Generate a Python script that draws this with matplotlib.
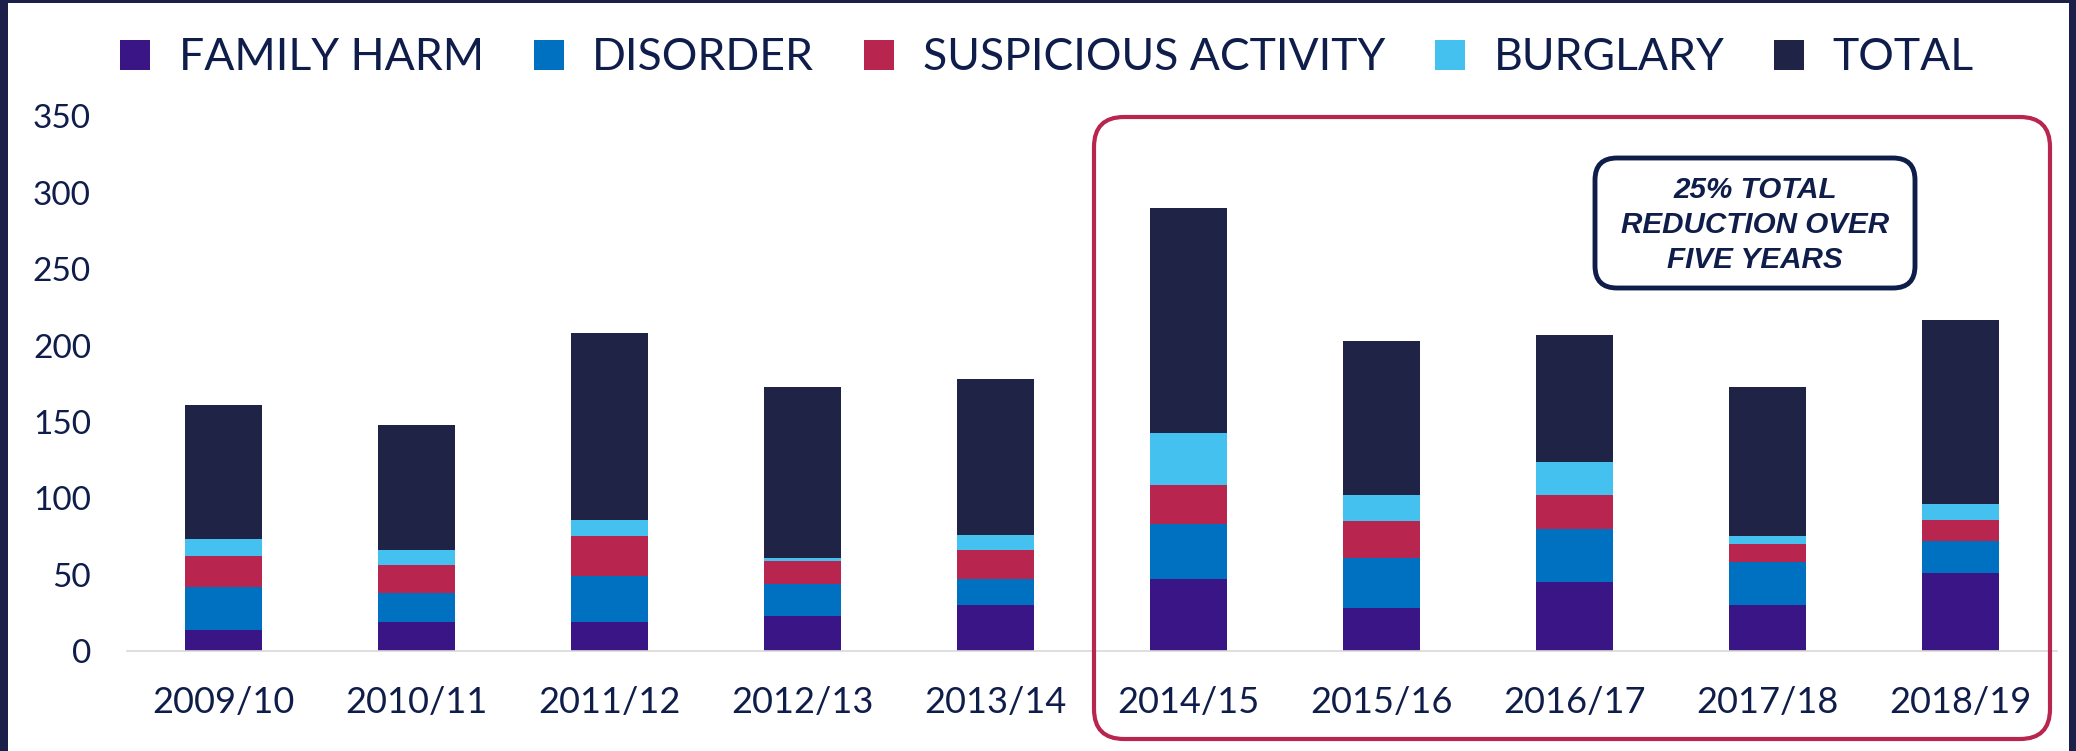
import matplotlib
matplotlib.use("Agg")
import matplotlib.pyplot as plt
import numpy as np
from matplotlib.patches import FancyBboxPatch, Rectangle

# values (stacked segments)
years = ["2009/10", "2010/11", "2011/12", "2012/13", "2013/14",
         "2014/15", "2015/16", "2016/17", "2017/18", "2018/19"]
family_harm = [14, 19, 19, 23, 30, 47, 28, 45, 30, 51]
disorder = [28, 19, 30, 21, 17, 36, 33, 35, 28, 21]
suspicious = [20, 18, 26, 15, 19, 26, 24, 22, 12, 14]
burglary = [11, 10, 11, 2, 10, 34, 17, 22, 5, 10]
total = [88, 82, 122, 112, 102, 147, 101, 83, 98, 121]

series_names = ["FAMILY HARM", "DISORDER", "SUSPICIOUS ACTIVITY", "BURGLARY", "TOTAL"]
colors = ["#3A1586", "#0070C0", "#B8264F", "#45C1EF", "#1F2345"]
navy = "#0F1D4A"

plt.rcParams['font.family'] = ['Lato', 'DejaVu Sans']

fig = plt.figure(figsize=(20.76, 7.51), dpi=100)
fig.patch.set_facecolor("#1B1F4A")
# white slide area inside the dark frame
fig.patches.append(Rectangle((0.08, 0.0), 20.61, 7.48, transform=fig.dpi_scale_trans,
                             facecolor="white", edgecolor="none", zorder=-5))

ax = fig.add_axes([127 / 2076, 100 / 751, 1930 / 2076, 534.6 / 751])
ax.set_facecolor("none")

x = np.arange(len(years))
bottom = np.zeros(len(years))
handles = []
for name, vals, c in zip(series_names, [family_harm, disorder, suspicious, burglary, total], colors):
    b = ax.bar(x, vals, width=0.4, bottom=bottom, color=c, label=name)
    handles.append(b)
    bottom += np.array(vals)

ax.set_xlim(-0.5, len(years) - 0.5)
ax.set_ylim(0, 350)
ax.set_yticks(range(0, 351, 50))
ax.set_xticks(x)
ax.set_xticklabels(years)
ax.tick_params(axis='y', length=0, pad=26, labelsize=24, labelcolor=navy)
ax.tick_params(axis='x', length=0, pad=25, labelsize=26, labelcolor=navy)
for s in ["top", "right", "left"]:
    ax.spines[s].set_visible(False)
ax.spines["bottom"].set_color("#D9D9D9")
ax.spines["bottom"].set_linewidth(1.2)

leg = fig.legend(handles=handles, loc="center", bbox_to_anchor=(1047 / 2076, 1 - 58 / 751),
                 ncol=5, frameon=False, fontsize=32, handlelength=0.68, handleheight=0.66,
                 handletextpad=0.64, columnspacing=1.12, borderaxespad=0)
for t in leg.get_texts():
    t.set_color(navy)

# highlight box round the last five years
fig.patches.append(FancyBboxPatch((10.94, 0.12), 9.56, 6.22, boxstyle="round,pad=0,rounding_size=0.3",
                                  transform=fig.dpi_scale_trans, facecolor="none",
                                  edgecolor="#B8264F", linewidth=3))
# note box
fig.patches.append(FancyBboxPatch((15.95, 4.63), 3.20, 1.30, boxstyle="round,pad=0,rounding_size=0.22",
                                  transform=fig.dpi_scale_trans, facecolor="white",
                                  edgecolor=navy, linewidth=3.5))
fig.text(17.55, 5.26, "25% TOTAL\nREDUCTION OVER\nFIVE YEARS", transform=fig.dpi_scale_trans,
         ha="center", va="center", fontsize=21.3, fontweight="bold", fontstyle="italic",
         family="Liberation Sans", color=navy, linespacing=1.3)

fig.savefig("out.png", dpi=100, facecolor=fig.get_facecolor())
